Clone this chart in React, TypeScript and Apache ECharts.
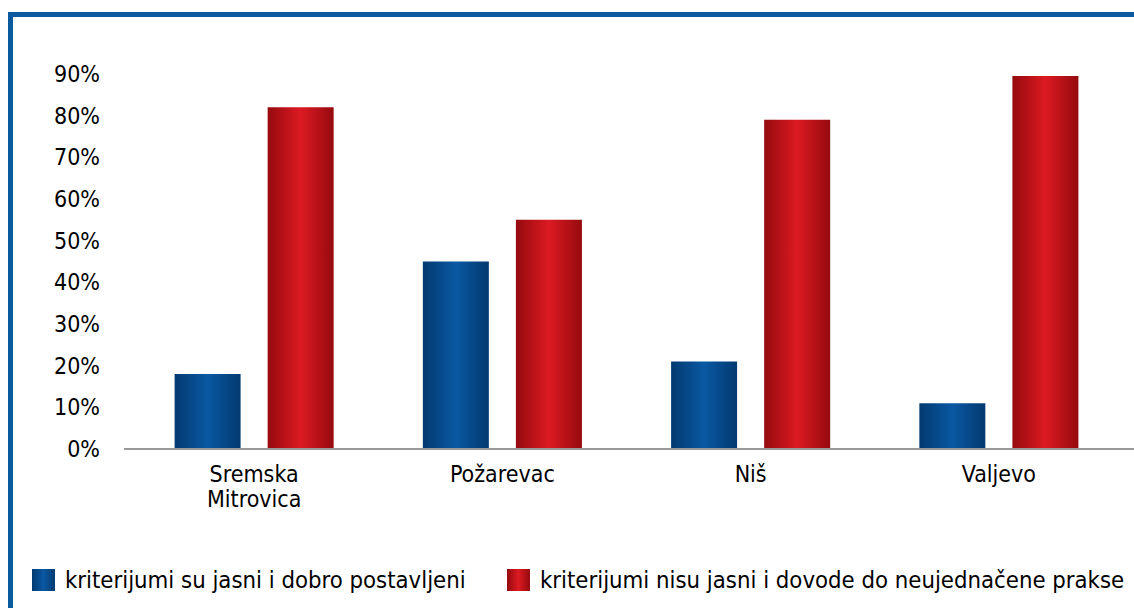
import React, { useEffect, useRef } from "react";
import * as echarts from "echarts";

const categories = ["Sremska\nMitrovica", "Požarevac", "Niš", "Valjevo"];
const seriesNames = [
  "kriterijumi su jasni i dobro postavljeni",
  "kriterijumi nisu jasni i dovode do neujednačene prakse",
];
const clearValues = [18, 45, 21, 11];
const unclearValues = [82, 55, 79, 89.5];

const FONT = "'DejaVu Sans Condensed', 'DejaVu Sans', sans-serif";

const blueFill = new echarts.graphic.LinearGradient(0, 0, 1, 0, [
  { offset: 0, color: "#033a70" },
  { offset: 0.5, color: "#0a58a3" },
  { offset: 1, color: "#033a70" },
]);
const redFill = new echarts.graphic.LinearGradient(0, 0, 1, 0, [
  { offset: 0, color: "#950a0e" },
  { offset: 0.5, color: "#dc1a22" },
  { offset: 1, color: "#950a0e" },
]);

const legendBase = {
  top: 568,
  padding: 0,
  itemWidth: 23,
  itemHeight: 22,
  icon: "rect",
  textStyle: { fontFamily: FONT, fontSize: 23.7, color: "#000", padding: [0, 0, 0, 5] },
};

export default function App() {
  const ref = useRef<HTMLDivElement>(null);
  useEffect(() => {
    if (!ref.current) return;
    const chart = echarts.init(ref.current, undefined, { renderer: "svg" });
    chart.setOption({
      animation: false,
      backgroundColor: "#ffffff",
      textStyle: { fontFamily: FONT },
      graphic: [
        {
          type: "polyline",
          shape: { points: [[10.5, 620], [10.5, 14.5], [1140, 14.5]] },
          style: { stroke: "#0b5aa0", lineWidth: 5, fill: "none" },
          silent: true,
        },
        {
          type: "line",
          shape: { x1: 124, y1: 449, x2: 1134, y2: 449 },
          style: { stroke: "#999999", lineWidth: 2 },
          silent: true,
          z: 100,
        },
      ],
      legend: [
        { ...legendBase, left: 32, data: [seriesNames[0]] },
        { ...legendBase, left: 507, data: [seriesNames[1]] },
      ],
      grid: { left: 130, right: 11, top: 74, bottom: 159, containLabel: false },
      xAxis: {
        type: "category",
        data: categories,
        axisLine: { show: false },
        axisTick: { show: false },
        axisLabel: {
          fontFamily: FONT,
          fontSize: 23,
          color: "#000",
          margin: 12,
          lineHeight: 25,
        },
      },
      yAxis: {
        type: "value",
        min: 0,
        max: 90,
        interval: 10,
        axisLine: { show: false },
        axisTick: { show: false },
        splitLine: { show: false },
        axisLabel: {
          fontFamily: FONT,
          fontSize: 23,
          color: "#000",
          margin: 30,
          formatter: "{value}%",
        },
      },
      series: [
        {
          name: seriesNames[0],
          type: "bar",
          data: clearValues,
          barWidth: 66,
          barGap: "41%",
          itemStyle: { color: blueFill },
        },
        {
          name: seriesNames[1],
          type: "bar",
          data: unclearValues,
          barWidth: 66,
          itemStyle: { color: redFill },
        },
      ],
    });
    return () => chart.dispose();
  }, []);
  return (
    <div
      ref={ref}
      style={{ position: "fixed", left: 0, top: 0, width: 1134, height: 608 }}
    />
  );
}
